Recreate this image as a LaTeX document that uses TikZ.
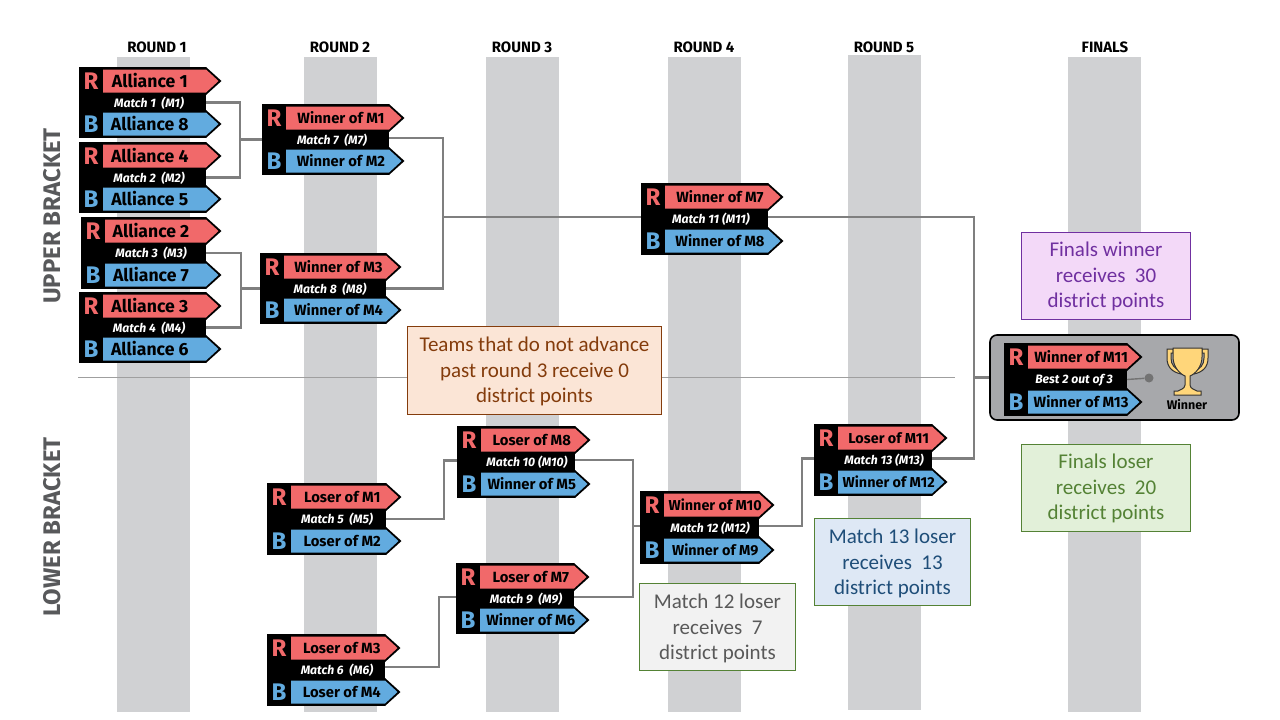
\documentclass[tikz,border=0pt]{standalone}
\usepackage{fontspec}
\setmainfont{Fira Sans}
\newfontfamily\boxfont{Carlito}
\definecolor{bandgray}{HTML}{D0D1D3}
\definecolor{linkgray}{HTML}{7F7F7F}
\definecolor{teamred}{HTML}{F1696A}
\definecolor{teamblue}{HTML}{62ABDF}
\definecolor{headgray}{HTML}{58595B}
\definecolor{finalgray}{HTML}{A7A8AB}
\definecolor{gold}{HTML}{FFD67A}
\definecolor{purplebox}{HTML}{7030A0}
\definecolor{purplefill}{HTML}{F3D9F8}
\definecolor{brownbox}{HTML}{843C0C}
\definecolor{brownfill}{HTML}{FBE5D6}
\definecolor{greenbox}{HTML}{548235}
\definecolor{greenfill}{HTML}{E2F0D9}
\definecolor{bluefill}{HTML}{DEE8F5}
\definecolor{bluetext}{HTML}{1F4E79}
\definecolor{paletext}{HTML}{595959}
\definecolor{palefill}{HTML}{F2F2F2}
\tikzset{
  band/.style={fill=bandgray,draw=none},
  link/.style={draw=linkgray,line width=2.1pt},
  roundtitle/.style={font=\fontsize{15}{17}\selectfont\bfseries,text=black,inner sep=0pt},
  brackettitle/.style={font=\fontsize{24}{26}\selectfont\bfseries,text=headgray,rotate=90,inner sep=0pt},
  matchbody/.style={fill=black,draw=none,inner sep=0pt,outer sep=0pt},
  teamtext/.style={text=black,inner sep=0pt},
  matchtext/.style={font=\fontsize{12.2}{14}\selectfont\bfseries\itshape,text=white,inner sep=0pt},
  noticebox/.style={inner sep=0pt,line width=0.8pt},
  noticetext/.style={font=\boxfont\fontsize{21}{25.4}\selectfont,align=center,inner sep=0pt},
}
\def\teamfont{\fontsize{14.8}{16}\selectfont\bfseries}
\def\teamshift{0.47}
% name, left, tip, red y, blue y, red text, match text, blue text
\newcommand\matchbox[8]{%
  \pgfmathsetmacro\mbR{#3-14}%
  \pgfmathsetmacro\mbS{#2+24}%
  \pgfmathsetmacro\mbT{#4-14}%
  \pgfmathsetmacro\mbB{#5+14}%
  \pgfmathsetmacro\mbW{\mbR-#2}%
  \pgfmathsetmacro\mbH{\mbB-\mbT}%
  \pgfmathsetmacro\mbCx{(\mbR+#2)/2}%
  \pgfmathsetmacro\mbCy{(#4+#5)/2}%
  \pgfmathsetmacro\mbMy{\mbCy+0.7}%
  \pgfmathsetmacro\mbL{#2+70}%
  \pgfmathsetmacro\mbX{\mbS+\teamshift*(#3-\mbS)}%
  \pgfmathsetmacro\mbLx{#2+12}%
  \node[matchbody,minimum width=\mbW pt,minimum height=\mbH pt] (#1) at (\mbCx,\mbCy) {};
  \fill[black] (\mbR,\mbT) -- (#3+1.5,#4) -- (\mbR,#4+14) -- cycle;
  \fill[black] (\mbR,#5-14) -- (#3+1.5,#5) -- (\mbR,#5+14) -- cycle;
  \fill[teamred] (\mbS,#4-11.5) -- (\mbR,#4-11.5) -- (#3-1.5,#4) -- (\mbR,#4+11.5) -- (\mbS,#4+11.5) -- cycle;
  \fill[teamblue] (\mbS,#5-11.5) -- (\mbR,#5-11.5) -- (#3-1.5,#5) -- (\mbR,#5+11.5) -- (\mbS,#5+11.5) -- cycle;
  \node[inner sep=0pt,text=teamred,font=\fontsize{24}{25}\selectfont\bfseries] (#1Rl) at (\mbLx,#4) {R};
  \node[inner sep=0pt,text=teamblue,font=\fontsize{24}{25}\selectfont\bfseries] (#1Bl) at (\mbLx,#5) {B};
  \node[teamtext,font=\teamfont] (#1Rt) at (\mbX,#4) {#6};
  \node[teamtext,font=\teamfont] (#1Bt) at (\mbX,#5) {#8};
  \node[matchtext] (#1Mt) at (\mbL,\mbMy) {#7};
}
\begin{document}
\begin{tikzpicture}[x=1pt,y=-1pt]
\useasboundingbox (0,0) rectangle (1280,720);
% bands
\fill[band] (117,57) rectangle (190,712);
\fill[band] (304,57) rectangle (377,712);
\fill[band] (486,57) rectangle (559,712);
\fill[band] (668,57) rectangle (741,712);
\fill[band] (848,55) rectangle (921,710);
\fill[band] (1068,57) rectangle (1141,712);
% titles
\node[roundtitle] (t1) at (157,47) {ROUND 1};
\node[roundtitle] (t2) at (340,47) {ROUND 2};
\node[roundtitle] (t3) at (522,47) {ROUND 3};
\node[roundtitle] (t4) at (704,47) {ROUND 4};
\node[roundtitle] (t5) at (884,47) {ROUND 5};
\node[roundtitle] (t6) at (1105,47) {FINALS};
\node[brackettitle] (ub) at (52,216) {UPPER BRACKET};
\node[brackettitle] (lb) at (52,527) {LOWER BRACKET};
% divider
\coordinate (divL) at (78,377);
\coordinate (divR) at (955,377);
\draw[draw=linkgray!75,line width=1pt] (divL) -- (divR);
% match boxes
\begingroup
\def\teamfont{\fontsize{17.6}{19}\selectfont\bfseries}
\def\teamshift{0.4}
\matchbox{m1}{79}{220}{81}{124}{Alliance 1}{Match 1~~(M1)}{Alliance 8}
\matchbox{m2}{79}{220}{156}{199}{Alliance 4}{Match 2~~(M2)}{Alliance 5}
\matchbox{m3}{81}{220}{231}{275}{Alliance 2}{Match 3~~(M3)}{Alliance 7}
\matchbox{m4}{79}{220}{306}{349}{Alliance 3}{Match 4~~(M4)}{Alliance 6}
\endgroup
\matchbox{m7}{262}{403}{118}{161}{Winner of M1}{Match 7~~(M7)}{Winner of M2}
\matchbox{m8}{260}{400}{267}{310}{Winner of M3}{Match 8~~(M8)}{Winner of M4}
\matchbox{m11}{641}{782}{197}{241}{Winner of M7}{Match 11~(M11)}{Winner of M8}
\matchbox{m5}{267}{400}{497}{541}{Loser of M1}{Match 5~~(M5)}{Loser of M2}
\matchbox{m6}{267}{399}{648}{692}{Loser of M3}{Match 6~~(M6)}{Loser of M4}
\matchbox{m10}{457}{589}{440}{484}{Loser of M8}{Match 10 (M10)}{Winner of M5}
\matchbox{m9}{456}{588}{577}{620}{Loser of M7}{Match 9~~(M9)}{Winner of M6}
\begingroup
\def\teamfont{\fontsize{14.4}{16}\selectfont\bfseries}
\matchbox{m12}{640}{773}{505}{550}{Winner of M10}{Match 12 (M12)}{Winner of M9}
\matchbox{m13}{814}{946}{438}{482}{Loser of M11}{Match 13 (M13)}{Winner of M12}
\endgroup
% finals panel
\node[draw=black,fill=finalgray,line width=1.6pt,rounded corners=7pt,minimum width=249pt,minimum height=85pt,inner sep=0pt] (finals) at (1114.5,377.5) {};
\matchbox{mf}{1004}{1141}{357}{402}{Winner of M11}{Best 2 out of 3}{Winner of M13}
\node[circle,fill=black!55,minimum size=9pt,inner sep=0pt] (dot) at (1149,378) {};
\draw[draw=black!55,line width=1.4pt] (mf.east) -- (dot);
% trophy
\draw[draw=black!80,line width=1pt,fill=gold] (1173,349) -- (1167,349) -- (1167,358) .. controls (1167,367) and (1172,372) .. (1181,374) -- (1181,371) .. controls (1175,369) and (1171,365) .. (1171,358) -- (1171,353) -- (1173,353) -- cycle;
\draw[draw=black!80,line width=1pt,fill=gold] (1202,349) -- (1208,349) -- (1208,358) .. controls (1208,367) and (1203,372) .. (1194,374) -- (1194,371) .. controls (1200,369) and (1204,365) .. (1204,358) -- (1204,353) -- (1202,353) -- cycle;
\draw[draw=black!80,line width=1pt,fill=gold] (1173,348) -- (1202,348) -- (1202,357) .. controls (1202,367) and (1195,374) .. (1190,376) -- (1190,385) .. controls (1190,389) and (1196,390) .. (1197,391) -- (1201,391) -- (1201,395) -- (1174,395) -- (1174,391) -- (1178,391) .. controls (1179,390) and (1185,389) .. (1185,385) -- (1185,376) .. controls (1180,374) and (1173,367) .. (1173,357) -- cycle;
\node[inner sep=0pt,font=\fontsize{12.5}{14}\selectfont\bfseries,text=black] (wn) at (1187,405) {Winner};
% connector ends
\coordinate (m7e) at ([yshift=1.2pt]m7.east);
\coordinate (m11w) at ([yshift=2pt]m11.west);
\coordinate (m11e) at ([yshift=2pt]m11.east);
\coordinate (m12w) at ([yshift=1.5pt]m12.west);
\coordinate (m12e) at ([yshift=1.5pt]m12.east);
\coordinate (m13w) at ([yshift=1.5pt]m13.west);
\coordinate (m13e) at ([yshift=1.5pt]m13.east);
\coordinate (m10w) at ([yshift=1.5pt]m10.west);
\coordinate (m10e) at ([yshift=2pt]m10.east);
\coordinate (m9w) at ([yshift=1.5pt]m9.west);
\coordinate (m9e) at ([yshift=1.5pt]m9.east);
\coordinate (m6e) at ([yshift=3pt]m6.east);
% connectors
\coordinate (j1) at (240,0 |- m7.west);
\draw[link] (m1.east) -| (j1) |- (m2.east);
\draw[link] (j1) -- (m7.west);
\coordinate (j2) at (241,0 |- m8.west);
\draw[link] (m3.east) -| (j2) |- (m4.east);
\draw[link] (j2) -- (m8.west);
\coordinate (j3) at (443,0 |- m11w);
\draw[link] (m7e) -| (j3) |- (m8.east);
\draw[link] (j3) -- (m11w);
\coordinate (j4) at (444,0 |- m10w);
\draw[link] (m5.east) -| (j4) -- (m10w);
\coordinate (j5) at (439,0 |- m9w);
\draw[link] (m6e) -| (j5) -- (m9w);
\coordinate (j6) at (633,0 |- m12w);
\draw[link] (m10e) -| (j6) |- (m9e);
\draw[link] (j6) -- (m12w);
\coordinate (j7) at (802,0 |- m13w);
\draw[link] (m12e) -| (j7) -- (m13w);
\coordinate (j8) at (974,0 |- finals.west);
\draw[link] (m11e) -| (j8) |- (m13e);
\draw[link] (j8) -- (finals.west);
% notices
\node[noticebox,draw=purplebox,fill=purplefill,minimum width=169pt,minimum height=87pt] (n1) at (1106,275.5) {};
\node[noticetext,text=purplebox] (n1t) at ([yshift=-1pt]n1.center) {Finals winner\\receives~~30\\district points};
\node[noticebox,draw=brownbox,fill=brownfill,minimum width=254pt,minimum height=88pt] (n2) at (534.5,370) {};
\node[noticetext,text=brownbox] (n2t) at ([yshift=-1.5pt]n2.center) {Teams that do not advance\\past round 3 receive 0\\district points};
\node[noticebox,draw=greenbox,fill=greenfill,minimum width=169pt,minimum height=87pt] (n3) at (1106,487.5) {};
\node[noticetext,text=greenbox] (n3t) at ([yshift=-1pt]n3.center) {Finals loser\\receives~~20\\district points};
\node[noticebox,draw=greenbox,fill=bluefill,minimum width=156pt,minimum height=87pt] (n4) at (892.5,561.5) {};
\node[noticetext,text=bluetext] (n4t) at ([yshift=-2pt]n4.center) {Match 13 loser\\receives~~13\\district points};
\node[noticebox,draw=greenbox,fill=palefill,minimum width=156pt,minimum height=87pt] (n5) at (717.5,626.5) {};
\node[noticetext,text=paletext] (n5t) at ([yshift=-2pt]n5.center) {Match 12 loser\\receives~~7\\district points};
\end{tikzpicture}
\end{document}
